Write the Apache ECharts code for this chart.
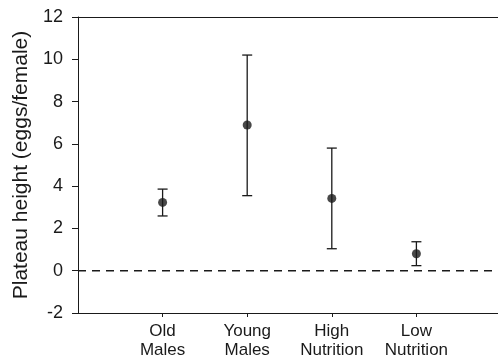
<!DOCTYPE html>
<html>
<head>
<meta charset="utf-8">
<script src="https://cdn.jsdelivr.net/npm/echarts@6/dist/echarts.min.js"></script>
<style>
  html, body { margin: 0; padding: 0; background: #fff; }
  #chart { width: 498px; height: 362px; }
</style>
</head>
<body>
<div id="chart"></div>
<script>
// group labels and their positions on the x scale
const groups = ['Old\nMales', 'Young\nMales', 'High\nNutrition', 'Low\nNutrition'];
const groupPos = [1, 2, 3, 4];
// plateau height means and error bar limits
const means = [3.23, 6.89, 3.42, 0.80];
const upper = [3.86, 10.2, 5.80, 1.37];
const lower = [2.59, 3.55, 1.04, 0.24];
const yTicks = [-2, 0, 2, 4, 6, 8, 10, 12];
const refLine = [[0, 0], [5, 0]];

const ink = '#1a1a1a';
const font = 'Liberation Sans, Arial, sans-serif';

const chart = echarts.init(document.getElementById('chart'));

const points = groupPos.map((x, i) => [x, means[i]]);
const bars = groupPos.map((x, i) => [x, lower[i], upper[i]]);

chart.setOption({
  animation: false,
  grid: {
    left: 78,
    top: 17,
    width: 423,
    bottom: 49,
    outerBoundsMode: 'none',
    containLabel: false
  },
  xAxis: [
    {
      type: 'value',
      min: 0,
      max: 5,
      interval: 1,
      splitLine: { show: false },
      axisLine: { onZero: false, lineStyle: { color: ink, width: 1 } },
      axisTick: { length: 4, lineStyle: { color: ink }, customValues: groupPos },
      axisLabel: {
        customValues: groupPos,
        formatter: (v) => groups[groupPos.indexOf(v)] || '',
        color: ink,
        fontFamily: font,
        fontSize: 17,
        lineHeight: 19,
        margin: 9
      }
    },
    {
      // top frame line only
      type: 'value',
      position: 'top',
      min: 0,
      max: 5,
      splitLine: { show: false },
      axisLine: { show: true, onZero: false, lineStyle: { color: ink, width: 1 } },
      axisTick: { show: false },
      axisLabel: { show: false }
    }
  ],
  yAxis: {
    type: 'value',
    min: -2,
    max: 12,
    interval: 2,
    name: 'Plateau height (eggs/female)',
    nameLocation: 'middle',
    nameGap: 45,
    nameTextStyle: { color: ink, fontFamily: font, fontSize: 21 },
    splitLine: { show: false },
    axisLine: { show: true, onZero: false, lineStyle: { color: ink, width: 1 } },
    axisTick: { show: true, length: 6, lineStyle: { color: ink } },
    axisLabel: {
      customValues: yTicks,
      color: ink,
      fontFamily: font,
      fontSize: 18,
      margin: 15
    }
  },
  series: [
    {
      type: 'line',
      data: refLine,
      symbol: 'none',
      silent: true,
      lineStyle: { color: ink, width: 1.4, type: [8, 6] }
    },
    {
      type: 'custom',
      data: bars,
      encode: { x: 0, y: [1, 2] },
      renderItem: (params, api) => {
        const x = api.value(0);
        const lo = api.coord([x, api.value(1)]);
        const hi = api.coord([x, api.value(2)]);
        const cap = 5;
        const style = { stroke: ink, lineWidth: 1.3 };
        return {
          type: 'group',
          children: [
            { type: 'line', shape: { x1: lo[0], y1: lo[1], x2: hi[0], y2: hi[1] }, style },
            { type: 'line', shape: { x1: hi[0] - cap, y1: hi[1], x2: hi[0] + cap, y2: hi[1] }, style },
            { type: 'line', shape: { x1: lo[0] - cap, y1: lo[1], x2: lo[0] + cap, y2: lo[1] }, style }
          ]
        };
      }
    },
    {
      type: 'scatter',
      data: points,
      symbol: 'circle',
      symbolSize: 9,
      itemStyle: { color: ink }
    }
  ]
});
</script>
</body>
</html>
